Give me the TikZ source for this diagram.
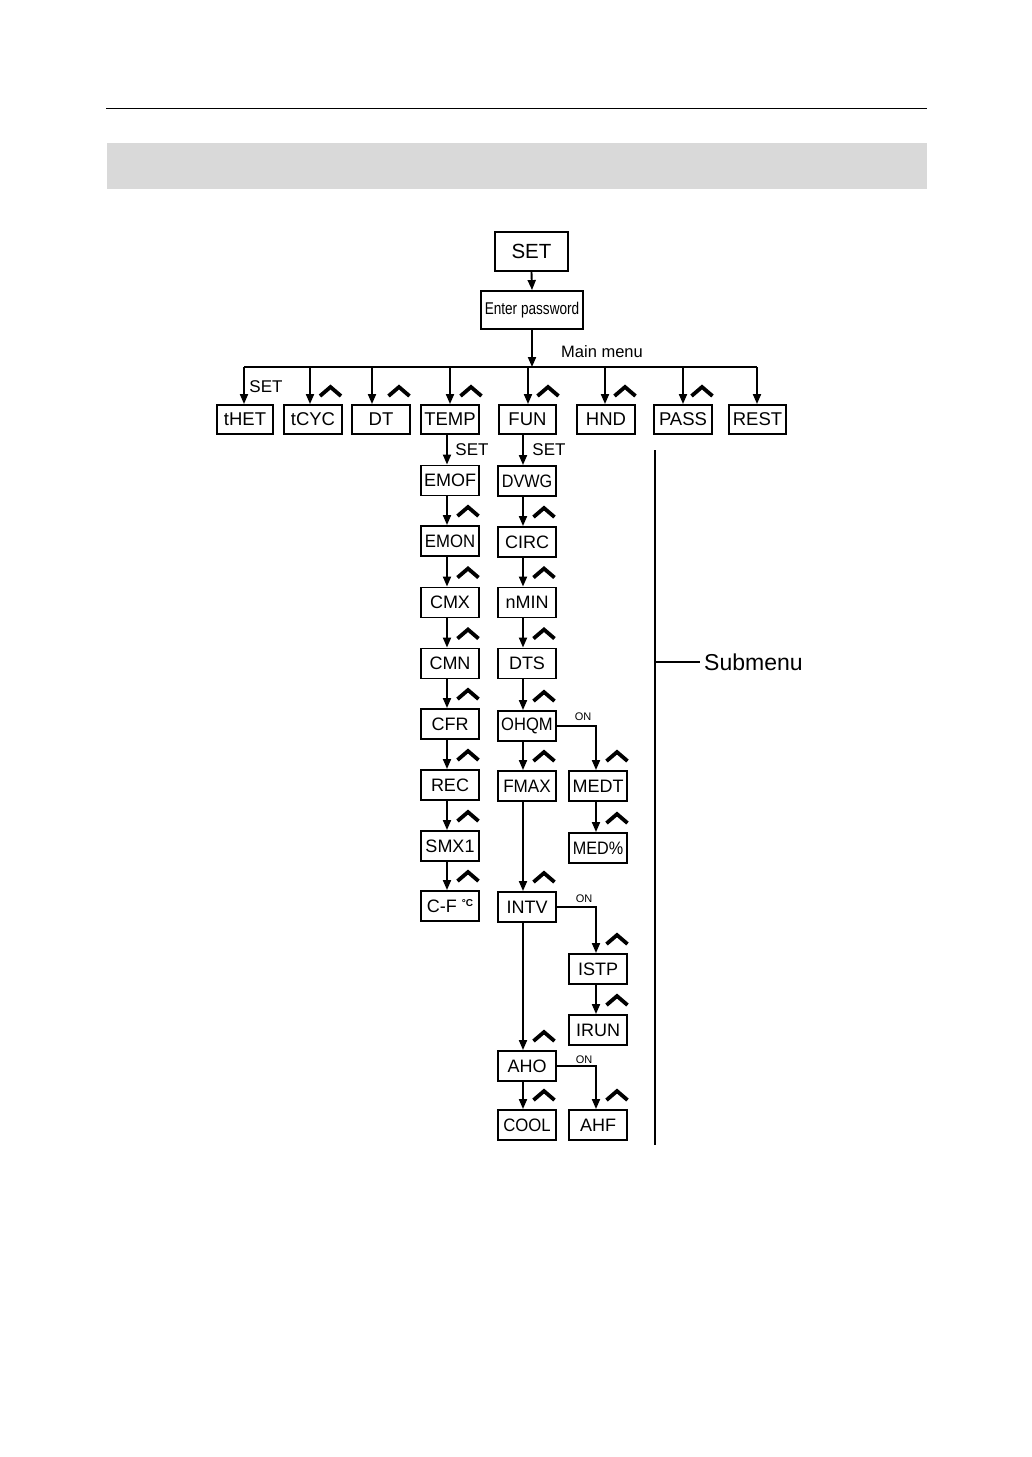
\documentclass[tikz,border=0pt]{standalone}
\usepackage{fontspec}
\setmainfont{Liberation Sans}
\usetikzlibrary{arrows.meta,calc}
\definecolor{barg}{HTML}{D9D9D9}
\begin{document}
\begin{tikzpicture}[x=1pt,y=-1pt]
\tikzset{
 bx/.style={draw, line width=1.9pt, minimum width=58pt, minimum height=30pt, inner sep=0pt, font=\fontsize{18}{21}\selectfont},
 topbx/.style={bx, minimum height=29pt, font=\fontsize{18.5}{22}\selectfont},
 arr/.style={line width=1.9pt, -{Triangle[length=10pt,width=8pt]}},
 lbl/.style={font=\fontsize{17}{20}\selectfont, inner sep=0pt},
 onlbl/.style={font=\fontsize{11}{12}\selectfont, inner sep=0pt},
 upcaret/.pic={\draw[line width=3.8pt, line join=miter] (-10.5,0) -- (0,-9) -- (10.5,0);}
}
\useasboundingbox (0,0) rectangle (1032,1457);
% header
\draw[line width=1pt] (106,108) -- (927,108);
\fill[barg] (107,143) rectangle (927,189);

% top
\node[bx, minimum width=73pt, minimum height=39pt, font=\fontsize{20.5}{24}\selectfont] (set) at (531.5,251.5) {SET};
\node[bx, minimum width=102pt, minimum height=38pt, font=\fontsize{17}{20}\selectfont] (pw) at (532,310) {\scalebox{0.8}[1]{Enter password}};
\coordinate (mm) at (532,367);
\draw[arr] (set.south) -- (pw.north);
\draw[arr] (pw.south) -- (mm);
\node[lbl, font=\fontsize{16.5}{19}\selectfont] (mmlbl) at (602,352) {Main menu};

% main menu row
\node[topbx, minimum width=56pt] (thet) at (245,419.5) {tHET};
\node[topbx] (tcyc) at (313,419.5) {tCYC};
\node[topbx] (dt) at (381,419.5) {DT};
\node[topbx] (temp) at (450,419.5) {TEMP};
\node[topbx, minimum width=57pt] (fun) at (527.5,419.5) {FUN};
\node[topbx] (hnd) at (606,419.5) {HND};
\node[topbx] (pass) at (683,419.5) {PASS};
\node[topbx, minimum width=57pt] (rest) at (757.5,419.5) {REST};

\coordinate (b1) at (244,367);
\coordinate (b2) at (310,367);
\coordinate (b3) at (372,367);
\coordinate (b4) at (450,367);
\coordinate (b5) at (528,367);
\coordinate (b6) at (605,367);
\coordinate (b7) at (683,367);
\coordinate (b8) at (757,367);
\draw[line width=1.9pt] (b1) -- (b8);
\draw[arr] (b1) -- (b1 |- thet.north);
\draw[arr] (b2) -- (b2 |- tcyc.north);
\draw[arr] (b3) -- (b3 |- dt.north);
\draw[arr] (b4) -- (b4 |- temp.north);
\draw[arr] (b5) -- (b5 |- fun.north);
\draw[arr] (b6) -- (b6 |- hnd.north);
\draw[arr] (b7) -- (b7 |- pass.north);
\draw[arr] (b8) -- (b8 |- rest.north);
\node[lbl] (setl1) at (266,386.5) {SET};
\pic at (330.5,396) {upcaret};
\pic at (399,396) {upcaret};
\pic at (471,396) {upcaret};
\pic at (548,396) {upcaret};
\pic at (625,396) {upcaret};
\pic at (702,396) {upcaret};

% column coordinates
\coordinate (c1) at (447,0);
\coordinate (c2) at (523,0);
\coordinate (c3) at (596,0);

% column 1
\node[bx] (emof) at (450,480.5) {EMOF};
\node[bx] (emon) at (450,541) {\scalebox{0.93}[1]{EMON}};
\node[bx] (cmx) at (450,602.5) {CMX};
\node[bx] (cmn) at (450,663.5) {CMN};
\node[bx] (cfr) at (450,724) {CFR};
\node[bx] (rec) at (450,785) {REC};
\node[bx] (smx) at (450,846) {SMX1};
\node[bx] (cf) at (450,906) {C-F\;\smash{\raisebox{6pt}{\fontsize{10}{10}\selectfont\bfseries °C}}};

\draw[arr] (temp.south -| c1) -- (emof.north -| c1);
\node[lbl] (setl2) at (472,450) {SET};
\foreach \a/\b in {emof/emon,emon/cmx,cmx/cmn,cmn/cfr,cfr/rec,rec/smx,smx/cf}{
  \draw[arr] (\a.south -| c1) -- (\b.north -| c1);
  \pic at ($(\b.north -| c1)+(21,-9)$) {upcaret};
}

% column 2
\node[bx] (dvwg) at (527,481) {\scalebox{0.9}[1]{DVWG}};
\node[bx] (circ) at (527,542) {CIRC};
\node[bx] (nmin) at (527,602.5) {nMIN};
\node[bx] (dts) at (527,663.5) {DTS};
\node[bx] (ohqm) at (527,726) {\scalebox{0.92}[1]{OHQM}};
\node[bx] (fmax) at (527,786) {\scalebox{0.95}[1]{FMAX}};
\node[bx] (intv) at (527,907) {INTV};
\node[bx] (aho) at (527,1066) {AHO};
\node[bx] (cool) at (527,1125) {\scalebox{0.93}[1]{COOL}};

\draw[arr] (fun.south -| c2) -- (dvwg.north -| c2);
\node[lbl] (setl3) at (549,450) {SET};
\foreach \a/\b in {dvwg/circ,circ/nmin,nmin/dts,dts/ohqm,ohqm/fmax,fmax/intv,intv/aho,aho/cool}{
  \draw[arr] (\a.south -| c2) -- (\b.north -| c2);
  \pic at ($(\b.north -| c2)+(21,-9)$) {upcaret};
}

% column 3
\node[bx] (medt) at (598,786) {MEDT};
\node[bx] (medp) at (598,848) {\scalebox{0.9}[1]{MED\%}};
\node[bx] (istp) at (598,969) {ISTP};
\node[bx] (irun) at (598,1030) {IRUN};
\node[bx] (ahf) at (598,1125) {AHF};

\draw[arr] (ohqm.east) -| (medt.north -| c3);
\draw[arr] (intv.east) -| (istp.north -| c3);
\draw[arr] (aho.east) -| (ahf.north -| c3);
\node[onlbl] (on1) at (583,717) {ON};
\node[onlbl] (on2) at (584,899) {ON};
\node[onlbl] (on3) at (584,1060) {ON};
\draw[arr] (medt.south -| c3) -- (medp.north -| c3);
\draw[arr] (istp.south -| c3) -- (irun.north -| c3);
\foreach \b in {medt,medp,istp,irun,ahf}{
  \pic at ($(\b.north -| c3)+(21,-9)$) {upcaret};
}

% submenu bracket
\coordinate (st) at (655,450);
\coordinate (sb) at (655,1145);
\coordinate (sm) at (655,662);
\node[font=\fontsize{23}{27}\selectfont, inner xsep=4pt, inner ysep=0pt, anchor=west] (subm) at (700,662) {Submenu};
\draw[line width=1.7pt] (st) -- (sb);
\draw[line width=1.5pt] (sm) -- (subm.west);
\end{tikzpicture}
\end{document}
